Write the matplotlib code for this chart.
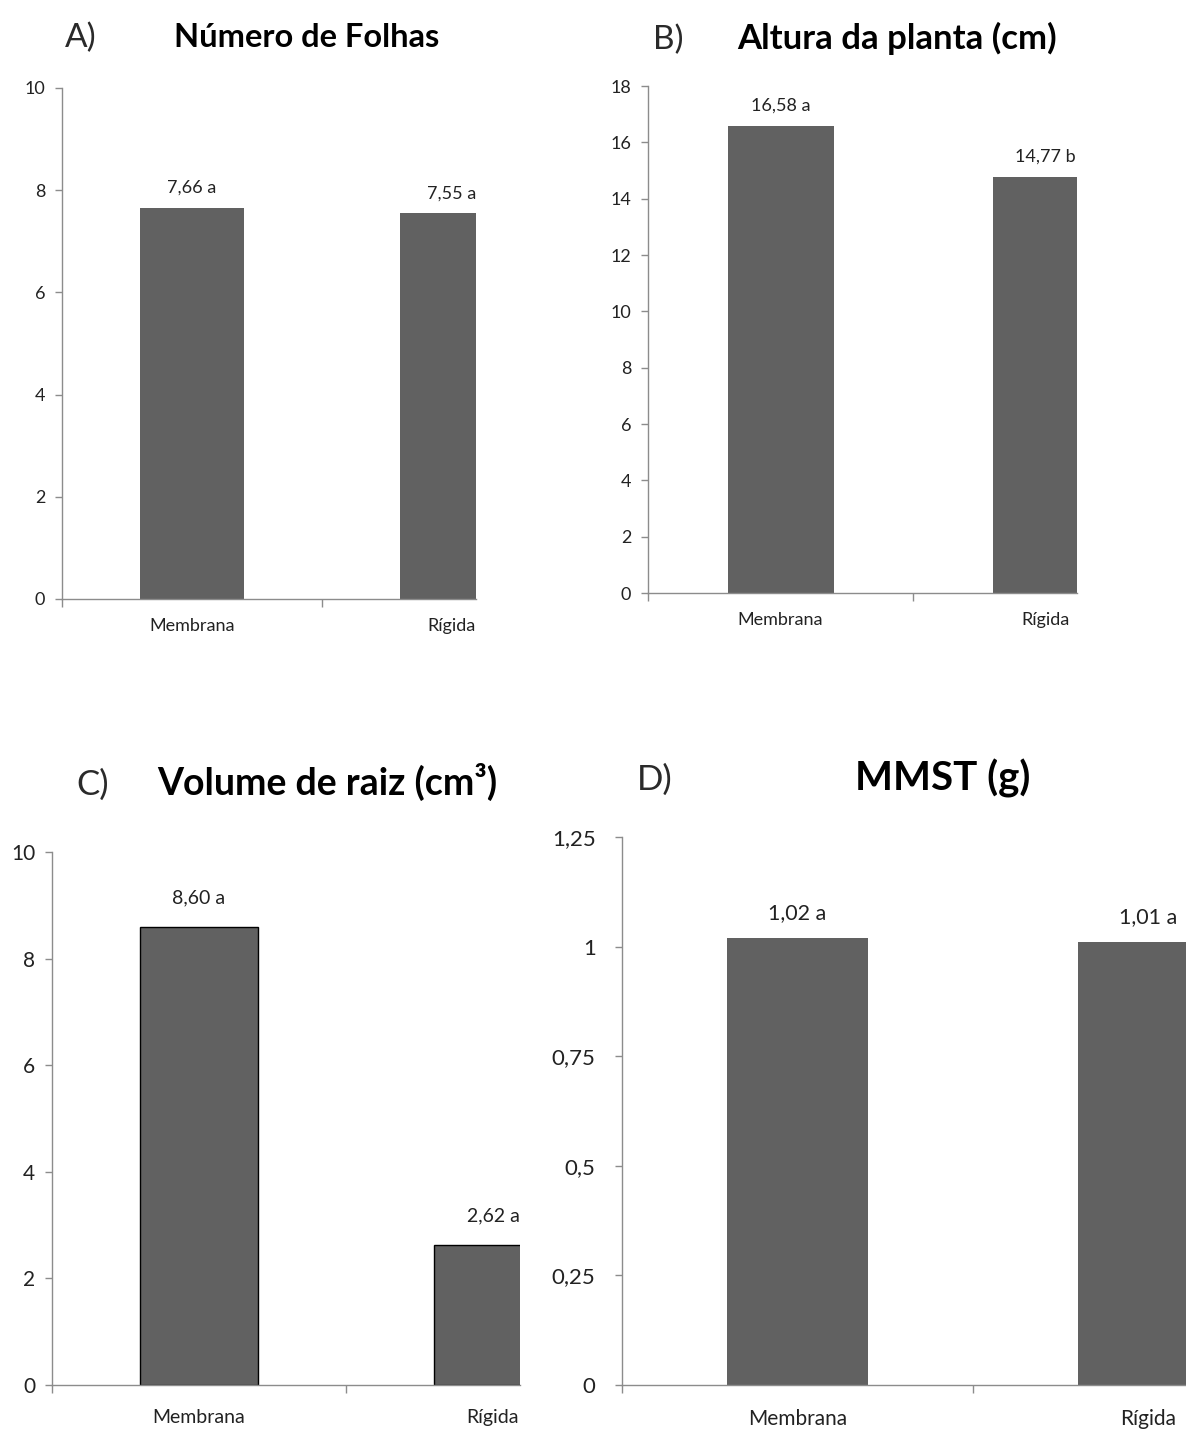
import matplotlib
matplotlib.use("Agg")
import matplotlib.pyplot as plt
from matplotlib.ticker import FuncFormatter

plt.rcParams['font.family'] = ['Lato', 'DejaVu Sans']

categorias = ["Membrana", "Rígida"]

folhas = [7.66, 7.55]
letras_folhas = ["a", "a"]

altura = [16.58, 14.77]
letras_altura = ["a", "b"]

volume = [8.60, 2.62]
letras_volume = ["a", "a"]

mmst = [1.02, 1.01]
letras_mmst = ["a", "a"]

W, H = 1186, 1432
fig = plt.figure(figsize=(W / 100, H / 100), dpi=100)

COR_BARRA = "#616161"
COR_EIXO = "#8c8c8c"


def virgula(v, pos=None):
    return ("%g" % v).replace(".", ",")


def painel(left, right, bottom, top, valores, letras, ymax, ystep, catw,
           fs_tick=13, fs_cat=13, fs_val=13, borda=None, off_val=20, pad_cat=14, pad_y=7):
    ax = fig.add_axes([left / W, 1 - bottom / H, (right - left) / W, (bottom - top) / H])
    x = [0.5, 1.5]
    ax.bar(x, valores, width=0.4, color=COR_BARRA,
           edgecolor=borda if borda else COR_BARRA, linewidth=1 if borda else 0)
    ax.set_xlim(0, (right - left) / catw)
    ax.set_ylim(0, ymax)
    yt = [i * ystep for i in range(int(round(ymax / ystep)) + 1)]
    ax.set_yticks(yt)
    ax.yaxis.set_major_formatter(FuncFormatter(virgula))
    ax.set_xticks([0, 1])
    ax.set_xticklabels(["", ""])
    ax.set_xticks(x, minor=True)
    ax.set_xticklabels(categorias, minor=True)
    ax.tick_params(axis="x", which="minor", length=0, pad=pad_cat, labelsize=fs_cat, colors="#222222")
    ax.tick_params(axis="x", which="major", length=6, width=1, color=COR_EIXO, direction="out")
    ax.tick_params(axis="y", length=5, width=1, color=COR_EIXO, direction="out",
                   pad=pad_y, labelsize=fs_tick, labelcolor="#222222")
    for s in ["top", "right"]:
        ax.spines[s].set_visible(False)
    for s in ["left", "bottom"]:
        ax.spines[s].set_color(COR_EIXO)
        ax.spines[s].set_linewidth(1)
    for xi, v, l in zip(x, valores, letras):
        ax.annotate(("%.2f" % v).replace(".", ",") + " " + l, (xi, v),
                    xytext=(0, off_val * 0.72), textcoords="offset points",
                    ha="center", va="center", fontsize=fs_val, color="#222222",
                    annotation_clip=False)
    return ax


def titulo(letra, xl, texto, xt, base, fs, fs_letra):
    fig.text(xl / W, 1 - base / H, letra, ha="center", va="baseline", fontsize=fs_letra,
             color="#2a2a2a")
    fig.text(xt / W, 1 - base / H, texto, ha="center", va="baseline", fontsize=fs,
             fontweight="bold", color="black")


painel(62, 476, 599, 88, folhas, letras_folhas, 10, 2, 260)
painel(648, 1077, 593, 86, altura, letras_altura, 18, 2, 265)
painel(52, 520, 1385, 852, volume, letras_volume, 10, 2, 294,
       fs_tick=15, fs_cat=14, fs_val=14, borda="black", off_val=29, pad_cat=17)
painel(622, 1186, 1385, 837, mmst, letras_mmst, 1.25, 0.25, 351,
       fs_tick=16, fs_cat=15, fs_val=15.5, off_val=25, pad_cat=17, pad_y=14)

titulo("A)", 81, "Número de Folhas", 307, 47, 23.5, 24)
titulo("B)", 668, "Altura da planta (cm)", 897, 49, 25, 24)
titulo("C)", 93, "Volume de raiz (cm³)", 327, 795, 27, 25)
titulo("D)", 655, "MMST (g)", 943, 790, 29, 25)

fig.savefig("out.png", dpi=100)
